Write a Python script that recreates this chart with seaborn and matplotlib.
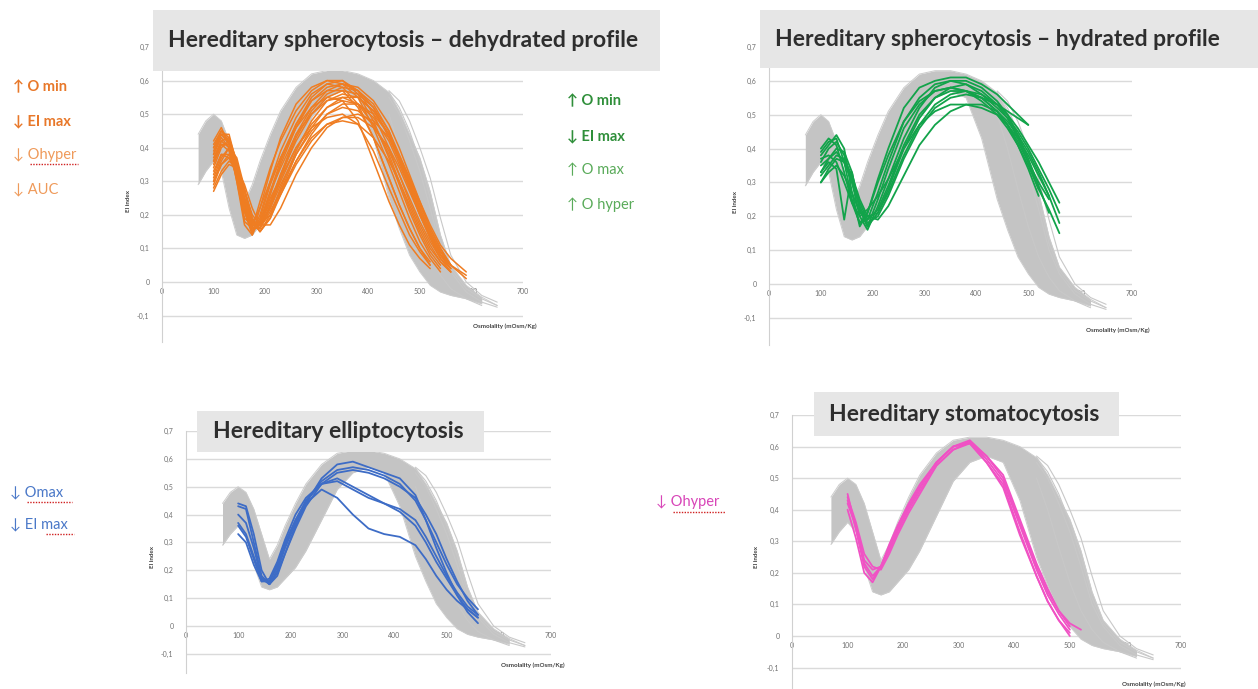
import numpy as np
import pandas as pd
import matplotlib
matplotlib.use("Agg")
import matplotlib.pyplot as plt
import seaborn as sns
from matplotlib.patches import Rectangle
from matplotlib.lines import Line2D

# osmolality grid (mOsm/Kg) shared by every curve
OSM = [70, 85, 100, 115, 130, 145, 160, 175, 190, 210, 230, 260, 290, 320, 350,
       380, 410, 440, 460, 480, 500, 520, 540, 560, 590, 620, 650]

# healthy control band (lower / upper EI envelope on OSM)
REF_LO = [0.29, 0.33, 0.36, 0.33, 0.22, 0.14, 0.13, 0.14, 0.17, 0.21, 0.27, 0.38, 0.49, 0.55,
          0.57, 0.55, 0.43, 0.25, 0.16, 0.08, 0.03, -0.01, -0.03, -0.04, -0.05, -0.065, None]
REF_HI = [0.44, 0.48, 0.50, 0.48, 0.42, 0.33, 0.24, 0.29, 0.36, 0.44, 0.51, 0.58, 0.62, 0.63,
          0.63, 0.62, 0.60, 0.565, 0.51, 0.44, 0.37, 0.27, 0.14, 0.05, -0.01, -0.045, -0.07]

# single control curves in the hypertonic tail (start at 440)
REF_TAIL = {
    "t1": [0.565, 0.52, 0.45, 0.36, 0.25, 0.12, 0.04, -0.02, -0.05, -0.07],
    "t2": [0.55, 0.50, 0.42, 0.33, 0.22, 0.10, 0.03, -0.03, -0.06, -0.075],
    "t3": [0.50, 0.40, 0.28, 0.17, 0.08, 0.02, -0.02, -0.05, -0.07],
    "t4": [0.57, 0.54, 0.48, 0.40, 0.31, 0.19, 0.08, 0.00, -0.04, -0.06],
}

# patient curves, all starting at 100 mOsm/Kg
HS_DEHYD = {
    "o1": [0.40, 0.45, 0.43, 0.32, 0.18, 0.16, 0.24, 0.34, 0.42, 0.51, 0.57, 0.60, 0.60, 0.56, 0.48, 0.37, 0.29, 0.21, 0.14, 0.08, 0.04],
    "o2": [0.38, 0.44, 0.44, 0.35, 0.22, 0.15, 0.20, 0.30, 0.39, 0.49, 0.56, 0.59, 0.58, 0.53, 0.43, 0.31, 0.23, 0.16, 0.10, 0.06],
    "o3": [0.34, 0.40, 0.42, 0.36, 0.25, 0.17, 0.17, 0.26, 0.35, 0.46, 0.54, 0.58, 0.59, 0.57, 0.52, 0.43, 0.36, 0.28, 0.20, 0.13, 0.07, 0.03],
    "o4": [0.30, 0.36, 0.40, 0.37, 0.28, 0.19, 0.16, 0.22, 0.31, 0.43, 0.51, 0.56, 0.58, 0.57, 0.53, 0.45, 0.37, 0.29, 0.21, 0.14, 0.08, 0.04],
    "o5": [0.42, 0.46, 0.41, 0.30, 0.19, 0.17, 0.22, 0.30, 0.37, 0.46, 0.52, 0.55, 0.54, 0.48, 0.36, 0.24, 0.17, 0.11, 0.07, 0.04],
    "o6": [0.36, 0.41, 0.39, 0.31, 0.21, 0.15, 0.18, 0.27, 0.34, 0.44, 0.50, 0.54, 0.55, 0.53, 0.47, 0.38, 0.30, 0.22, 0.15, 0.09, 0.05],
    "o7": [0.32, 0.38, 0.38, 0.33, 0.24, 0.17, 0.16, 0.23, 0.30, 0.40, 0.47, 0.52, 0.54, 0.53, 0.49, 0.42, 0.35, 0.28, 0.20, 0.13, 0.08, 0.04],
    "o8": [0.28, 0.33, 0.36, 0.34, 0.27, 0.19, 0.15, 0.19, 0.26, 0.36, 0.44, 0.50, 0.53, 0.53, 0.50, 0.44, 0.37, 0.30, 0.22, 0.15, 0.09, 0.05],
    "o9": [0.38, 0.43, 0.40, 0.32, 0.22, 0.16, 0.17, 0.25, 0.31, 0.40, 0.46, 0.49, 0.50, 0.47, 0.39, 0.28, 0.21, 0.14, 0.09, 0.05],
    "o10": [0.33, 0.38, 0.37, 0.32, 0.24, 0.18, 0.16, 0.21, 0.27, 0.36, 0.43, 0.47, 0.48, 0.47, 0.43, 0.36, 0.30, 0.23, 0.16, 0.10, 0.06, 0.03],
    "o11": [0.40, 0.44, 0.42, 0.33, 0.21, 0.14, 0.19, 0.29, 0.37, 0.47, 0.54, 0.57, 0.57, 0.52, 0.43, 0.31, 0.23, 0.16, 0.10, 0.05],
    "o12": [0.35, 0.41, 0.41, 0.35, 0.25, 0.18, 0.15, 0.20, 0.28, 0.39, 0.48, 0.54, 0.56, 0.55, 0.51, 0.44, 0.37, 0.29, 0.21, 0.14, 0.08, 0.05],
    "o13": [0.29, 0.35, 0.38, 0.35, 0.27, 0.20, 0.17, 0.20, 0.26, 0.35, 0.42, 0.47, 0.49, 0.49, 0.46, 0.40, 0.34, 0.27, 0.20, 0.14, 0.09, 0.05, 0.01],
    "o14": [0.37, 0.42, 0.40, 0.33, 0.23, 0.16, 0.17, 0.24, 0.32, 0.42, 0.50, 0.55, 0.57, 0.56, 0.52, 0.45, 0.38, 0.31, 0.23, 0.16, 0.10, 0.05],
    "o15": [0.41, 0.45, 0.42, 0.33, 0.21, 0.15, 0.18, 0.27, 0.36, 0.47, 0.55, 0.59, 0.60, 0.57, 0.50, 0.40, 0.32, 0.24, 0.17, 0.11, 0.06, 0.03],
    "o16": [0.31, 0.37, 0.40, 0.36, 0.27, 0.18, 0.15, 0.19, 0.27, 0.38, 0.46, 0.52, 0.55, 0.55, 0.51, 0.44, 0.37, 0.30, 0.22, 0.15, 0.09, 0.05],
    "o17": [0.39, 0.44, 0.41, 0.30, 0.17, 0.14, 0.22, 0.33, 0.43, 0.53, 0.58, 0.60, 0.59, 0.55, 0.46, 0.35, 0.27, 0.19, 0.12, 0.07, 0.03],
    "o18": [0.27, 0.32, 0.35, 0.34, 0.29, 0.22, 0.17, 0.17, 0.22, 0.32, 0.40, 0.46, 0.49, 0.50, 0.48, 0.43, 0.37, 0.31, 0.24, 0.17, 0.11, 0.07, 0.03],
    "o19": [0.36, 0.42, 0.43, 0.36, 0.24, 0.16, 0.16, 0.23, 0.32, 0.44, 0.52, 0.57, 0.59, 0.58, 0.54, 0.47, 0.40, 0.32, 0.24, 0.16, 0.10, 0.05, 0.02],
    "o20": [0.30, 0.35, 0.37, 0.33, 0.25, 0.18, 0.17, 0.22, 0.29, 0.38, 0.45, 0.50, 0.52, 0.51, 0.47, 0.39, 0.32, 0.25, 0.18, 0.12, 0.07, 0.04],
}

HS_HYD = {
    "g1": [0.38, 0.41, 0.44, 0.40, 0.27, 0.17, 0.21, 0.31, 0.40, 0.52, 0.58, 0.60, 0.61, 0.61, 0.59, 0.56, 0.53, 0.50, 0.47],
    "g2": [0.36, 0.40, 0.42, 0.38, 0.30, 0.20, 0.16, 0.23, 0.31, 0.43, 0.52, 0.58, 0.60, 0.60, 0.58, 0.54, 0.50, 0.44, 0.37, 0.29, 0.21],
    "g3": [0.33, 0.37, 0.40, 0.39, 0.33, 0.22, 0.17, 0.21, 0.28, 0.40, 0.49, 0.55, 0.58, 0.59, 0.57, 0.53, 0.49, 0.43, 0.36, 0.28, 0.22, 0.15],
    "g4": [0.30, 0.34, 0.37, 0.36, 0.31, 0.24, 0.19, 0.22, 0.29, 0.41, 0.50, 0.55, 0.57, 0.57, 0.55, 0.51, 0.47, 0.42, 0.36, 0.30, 0.25],
    "g5": [0.33, 0.36, 0.34, 0.19, 0.33, 0.22, 0.17, 0.25, 0.34, 0.46, 0.53, 0.57, 0.58, 0.57, 0.55, 0.51, 0.47, 0.41, 0.34, 0.26],
    "g6": [0.40, 0.43, 0.41, 0.33, 0.24, 0.18, 0.19, 0.27, 0.36, 0.48, 0.55, 0.59, 0.60, 0.59, 0.56, 0.52, 0.49, 0.45, 0.40, 0.34, 0.28, 0.21],
    "g7": [0.37, 0.38, 0.36, 0.30, 0.24, 0.20, 0.22, 0.26, 0.31, 0.40, 0.47, 0.51, 0.53, 0.53, 0.52, 0.50, 0.47, 0.43, 0.38, 0.32, 0.26],
    "g8": [0.30, 0.33, 0.35, 0.32, 0.27, 0.21, 0.20, 0.19, 0.23, 0.32, 0.41, 0.47, 0.51, 0.53, 0.53, 0.51, 0.48, 0.44, 0.39, 0.33, 0.26, 0.18],
    "g9": [0.39, 0.42, 0.43, 0.36, 0.25, 0.18, 0.21, 0.30, 0.38, 0.48, 0.54, 0.57, 0.58, 0.57, 0.54, 0.50, 0.46, 0.41, 0.35, 0.28],
    "g10": [0.35, 0.37, 0.39, 0.36, 0.30, 0.23, 0.18, 0.20, 0.26, 0.37, 0.46, 0.52, 0.55, 0.56, 0.55, 0.53, 0.51, 0.49, 0.47],
    "g11": [0.32, 0.35, 0.38, 0.37, 0.32, 0.25, 0.20, 0.21, 0.27, 0.38, 0.47, 0.53, 0.56, 0.57, 0.56, 0.53, 0.50, 0.46, 0.41, 0.36, 0.30, 0.24],
}

HE = {
    "b1": [0.37, 0.33, 0.25, 0.17, 0.15, 0.18, 0.26, 0.36, 0.44, 0.53, 0.58, 0.59, 0.57, 0.55, 0.53, 0.47, 0.38, 0.28, 0.19, 0.11, 0.05, 0.01],
    "b2": [0.43, 0.42, 0.30, 0.18, 0.15, 0.20, 0.28, 0.37, 0.45, 0.52, 0.56, 0.57, 0.56, 0.54, 0.51, 0.45, 0.38, 0.30, 0.22, 0.15, 0.10, 0.06],
    "b3": [0.40, 0.37, 0.28, 0.17, 0.16, 0.21, 0.29, 0.38, 0.45, 0.51, 0.53, 0.50, 0.47, 0.44, 0.42, 0.38, 0.32, 0.25, 0.18, 0.12, 0.07, 0.04],
    "b4": [0.36, 0.32, 0.24, 0.16, 0.17, 0.23, 0.31, 0.40, 0.46, 0.51, 0.52, 0.49, 0.46, 0.44, 0.41, 0.36, 0.30, 0.23, 0.17, 0.11, 0.06, 0.03],
    "b5": [0.33, 0.30, 0.22, 0.16, 0.16, 0.22, 0.30, 0.38, 0.44, 0.49, 0.46, 0.40, 0.35, 0.33, 0.32, 0.29, 0.24, 0.18, 0.13, 0.09, 0.06, 0.03],
    "b6": [0.44, 0.43, 0.33, 0.20, 0.15, 0.19, 0.26, 0.35, 0.43, 0.51, 0.55, 0.56, 0.55, 0.53, 0.50, 0.46, 0.40, 0.33, 0.24, 0.16, 0.09, 0.04],
}

HST = {
    "p1": [0.45, 0.34, 0.22, 0.18, 0.22, 0.28, 0.34, 0.41, 0.47, 0.55, 0.60, 0.615, 0.56, 0.49, 0.35, 0.21, 0.13, 0.07, 0.02],
    "p2": [0.42, 0.35, 0.24, 0.21, 0.22, 0.27, 0.33, 0.40, 0.46, 0.54, 0.59, 0.61, 0.55, 0.48, 0.33, 0.19, 0.11, 0.05, 0.00],
    "p3": [0.44, 0.36, 0.26, 0.22, 0.21, 0.26, 0.32, 0.39, 0.45, 0.54, 0.59, 0.615, 0.57, 0.51, 0.37, 0.23, 0.15, 0.08, 0.03],
    "p4": [0.40, 0.31, 0.20, 0.17, 0.22, 0.29, 0.35, 0.42, 0.48, 0.55, 0.60, 0.61, 0.55, 0.47, 0.32, 0.19, 0.11, 0.05, 0.01],
    "p5": [0.43, 0.34, 0.23, 0.19, 0.22, 0.28, 0.34, 0.41, 0.47, 0.55, 0.60, 0.62, 0.57, 0.50, 0.36, 0.22, 0.14, 0.08, 0.04, 0.02],
}

TITLES = ["Hereditary spherocytosis \u2013 dehydrated profile",
          "Hereditary spherocytosis \u2013 hydrated profile",
          "Hereditary elliptocytosis",
          "Hereditary stomatocytosis"]

Y_TICKS = [-0.1, 0, 0.1, 0.2, 0.3, 0.4, 0.5, 0.6, 0.7]
Y_LABELS = ["-0,1", "0", "0,1", "0,2", "0,3", "0,4", "0,5", "0,6", "0,7"]
X_TICKS = [0, 100, 200, 300, 400, 500, 600, 700]


def to_long(curves, grid):
    rows = []
    for name, vals in curves.items():
        for o, v in zip(grid, vals):
            rows.append((name, o, v))
    return pd.DataFrame(rows, columns=["curve", "osm", "ei"])


W, H = 1258, 689
sns.set_style("white")
plt.rcParams["font.family"] = ["Lato", "DejaVu Sans"]
fig = plt.figure(figsize=(W / 100, H / 100), dpi=100)

tail_df = to_long(REF_TAIL, OSM[17:])
lo = np.array(REF_LO, dtype=float)
hi = np.array(REF_HI, dtype=float)


def make_panel(x0, x700, y07, y0, ymin, curves, color, lw, xlab_pos):
    per = (y0 - y07) / 0.7
    ybot = y0 - ymin * per
    ax = fig.add_axes([x0 / W, 1 - ybot / H, (x700 - x0) / W, (ybot - y07) / H])
    ax.set_xlim(0, 700)
    ax.set_ylim(ymin, 0.7)

    ax.fill_between(OSM, lo, hi, color="#c4c4c4", lw=0, zorder=2)
    ax.plot(OSM, lo, color="#cccccc", lw=0.7, zorder=2)
    ax.plot(OSM, hi, color="#cccccc", lw=0.7, zorder=2)
    sns.lineplot(data=tail_df, x="osm", y="ei", units="curve", estimator=None,
                 color="#c8c8c8", lw=0.8, ax=ax, legend=False, zorder=2)

    df = to_long(curves, OSM[2:])
    sns.lineplot(data=df, x="osm", y="ei", units="curve", estimator=None,
                 color=color, lw=lw, ax=ax, legend=False, zorder=3)

    ax.set_yticks(Y_TICKS, Y_LABELS)
    ax.set_xticks(X_TICKS, [str(t) for t in X_TICKS])
    ax.grid(axis="y", color="#dadada", lw=1.0, zorder=0)
    ax.grid(axis="x", visible=False)
    ax.set_axisbelow(True)
    for s in ["top", "right"]:
        ax.spines[s].set_visible(False)
    ax.spines["left"].set_color("#d0d0d0")
    ax.spines["bottom"].set_position(("data", 0))
    ax.spines["bottom"].set_visible(False)
    ax.tick_params(axis="y", length=0, labelsize=5, labelcolor="#707070", pad=9)
    ax.tick_params(axis="x", length=0, labelsize=5, labelcolor="#707070", pad=4)
    ax.set_xlabel("")
    ax.set_ylabel("EI index", fontsize=4.5, fontweight="bold", color="#404040")
    ax.yaxis.set_label_coords(-0.085, 0.48)
    ax.text(xlab_pos[0], xlab_pos[1], "Osmolality (mOsm/Kg)", transform=ax.transAxes,
            fontsize=4.5, fontweight="bold", color="#404040", ha="center", va="center")
    return ax


make_panel(162, 523, 47, 282, -0.18, HS_DEHYD, "#ef7d22", 1.1, (0.95, 0.055))
make_panel(769, 1132, 47, 284, -0.18, HS_HYD, "#12a34a", 1.3, (0.96, 0.05))
make_panel(186, 551, 431, 626, -0.17, HE, "#3d6cc6", 1.3, (0.95, 0.035))
make_panel(792, 1181, 415, 636, -0.165, HST, "#f052c4", 1.3, (0.93, 0.015))


def title_box(x1, y1, x2, y2, tx, text):
    fig.add_artist(Rectangle((x1 / W, 1 - y2 / H), (x2 - x1) / W, (y2 - y1) / H,
                             transform=fig.transFigure, facecolor="#e6e6e6",
                             edgecolor="none", zorder=5))
    fig.text(tx / W, 1 - (y1 + y2) / 2 / H, text, fontsize=16.5, fontweight="bold",
             color="#2e2e2e", ha="left", va="center", zorder=6)


title_box(153, 10, 660, 71, 168, TITLES[0])
title_box(760, 10, 1258, 68, 775, TITLES[1])
title_box(197, 411, 484, 452, 213, TITLES[2])
title_box(814, 392, 1119, 436, 829, TITLES[3])


def note(x, y, s, color, bold=False):
    fig.text(x / W, 1 - y / H, s, fontsize=10.5, color=color, ha="left", va="center",
             fontweight="bold" if bold else "normal")


def squiggle(x1, x2, y):
    fig.add_artist(Line2D([x1 / W, x2 / W], [1 - y / H, 1 - y / H], transform=fig.transFigure,
                          color="#d02020", lw=1.0, ls=(0, (1, 1))))


note(13, 87, "\u2191 O min", "#e8782a", True)
note(13, 121, "\u2193 EI max", "#e8782a", True)
note(13, 155, "\u2193 Ohyper", "#ef9a5a")
note(13, 189, "\u2193 AUC", "#ef9a5a")
squiggle(30, 78, 164)

note(567, 101, "\u2191 O min", "#2f8f3a", True)
note(567, 136, "\u2193 EI max", "#2f8f3a", True)
note(567, 170, "\u2191 O max", "#5aab5a")
note(567, 205, "\u2191 O hyper", "#5aab5a")

note(10, 492, "\u2193 Omax", "#4a78c8")
note(10, 524, "\u2193 EI max", "#4a78c8")
squiggle(27, 72, 502)
squiggle(46, 74, 534)

note(656, 502, "\u2193 Ohyper", "#d845b8")
squiggle(673, 725, 512)

fig.savefig("out.png", dpi=100)
